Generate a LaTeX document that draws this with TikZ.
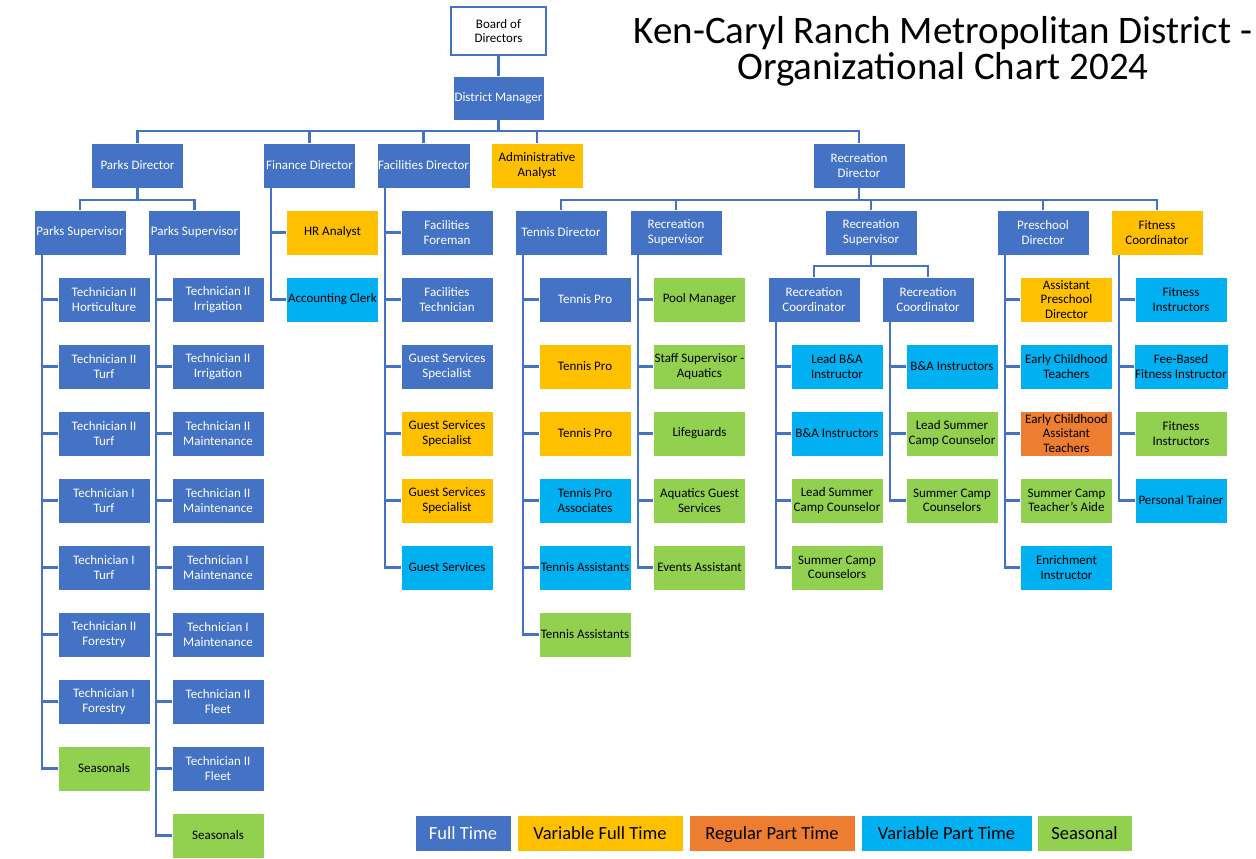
\documentclass[tikz,border=0pt]{standalone}
\usepackage{fontspec}
\setmainfont{Carlito}
\usetikzlibrary{positioning}
\definecolor{kcblue}{HTML}{4472C4}
\definecolor{kcgold}{HTML}{FFC000}
\definecolor{kcorange}{HTML}{ED7D31}
\definecolor{kccyan}{HTML}{00B0F0}
\definecolor{kcgreen}{HTML}{92D050}

\begin{document}
\begin{tikzpicture}[x=1pt, y=-1pt,
  role/.style={rectangle, minimum width=92pt, minimum height=45pt, inner sep=1pt, align=center,
    font=\fontsize{13}{14.5}\selectfont, draw=white, line width=0.6pt},
  full/.style={role, fill=kcblue, text=white},
  varfull/.style={role, fill=kcgold, text=black},
  regpart/.style={role, fill=kcorange, text=black},
  varpart/.style={role, fill=kccyan, text=black},
  seasonal/.style={role, fill=kcgreen, text=black},
  legend/.style={rectangle, minimum height=36pt, inner sep=0pt, text height=14pt, text depth=2pt,
    font=\fontsize{18.5}{20}\selectfont, draw=white, line width=0.6pt},
  link/.style={draw=kcblue, line width=2.2pt},
]
\useasboundingbox (0,0) rectangle (1256,859);
\node[font=\fontsize{39}{36}\selectfont, align=center, inner sep=0pt] (title) at (943,51) {Ken-Caryl Ranch Metropolitan District -\\Organizational Chart 2024};

% top of the chart
\node[role, fill=white, draw=kcblue, line width=1.5pt, minimum width=95pt, minimum height=48pt] (board) at (498.5,31) {Board of\\Directors};
\node[full, minimum width=91pt, minimum height=44pt] (dm) at (498.5,98) {District Manager};
\node[full] (parksdir) at (137.5,165.5) {Parks Director};
\node[full] (findir) at (309.5,165.5) {Finance Director};
\node[full] (facdir) at (423.5,165.5) {Facilities Director};
\node[varfull] (admin) at (537,165.5) {Administrative\\Analyst};
\node[full] (recdir) at (859,165.5) {Recreation\\Director};

% parks
\node[full] (ps1) at (80,232.5) {Parks Supervisor};
\node[full] (ps2) at (194.5,232.5) {Parks Supervisor};
\node[full] (ps1a) at (104,299.5) {Technician II\\Horticulture};
\node[full] (ps1b) at (104,366.5) {Technician II\\Turf};
\node[full] (ps1c) at (104,433.5) {Technician II\\Turf};
\node[full] (ps1d) at (104,500.5) {Technician I\\Turf};
\node[full] (ps1e) at (104,567.5) {Technician I\\Turf};
\node[full] (ps1f) at (104,634.5) {Technician II\\Forestry};
\node[full] (ps1g) at (104,701.5) {Technician I\\Forestry};
\node[seasonal] (ps1h) at (104,768.5) {Seasonals};
\node[full] (ps2a) at (218,299.5) {Technician II\\Irrigation};
\node[full] (ps2b) at (218,366.5) {Technician II\\Irrigation};
\node[full] (ps2c) at (218,433.5) {Technician II\\Maintenance};
\node[full] (ps2d) at (218,500.5) {Technician II\\Maintenance};
\node[full] (ps2e) at (218,567.5) {Technician I\\Maintenance};
\node[full] (ps2f) at (218,634.5) {Technician I\\Maintenance};
\node[full] (ps2g) at (218,701.5) {Technician II\\Fleet};
\node[full] (ps2h) at (218,768.5) {Technician II\\Fleet};
\node[seasonal] (ps2i) at (218,835.5) {Seasonals};

% finance and facilities
\node[varfull] (fina) at (332.5,232.5) {HR Analyst};
\node[varpart] (finb) at (332.5,299.5) {Accounting Clerk};
\node[full] (faca) at (447,232.5) {Facilities\\Foreman};
\node[full] (facb) at (447,299.5) {Facilities\\Technician};
\node[full] (facc) at (447,366.5) {Guest Services\\Specialist};
\node[varfull] (facd) at (447,433.5) {Guest Services\\Specialist};
\node[varfull] (face) at (447,500.5) {Guest Services\\Specialist};
\node[varpart] (facf) at (447,567.5) {Guest Services};

% recreation
\node[full] (tennis) at (561,232.5) {Tennis Director};
\node[full] (rs1) at (676,232.5) {Recreation\\Supervisor};
\node[full] (rs2) at (871,232.5) {Recreation\\Supervisor};
\node[full] (presch) at (1043,232.5) {Preschool\\Director};
\node[varfull] (fitness) at (1157,232.5) {Fitness\\Coordinator};
\node[full] (tena) at (585,299.5) {Tennis Pro};
\node[varfull] (tenb) at (585,366.5) {Tennis Pro};
\node[varfull] (tenc) at (585,433.5) {Tennis Pro};
\node[varpart] (tend) at (585,500.5) {Tennis Pro\\Associates};
\node[varpart] (tene) at (585,567.5) {Tennis Assistants};
\node[seasonal] (tenf) at (585,634.5) {Tennis Assistants};
\node[seasonal] (rs1a) at (699.5,299.5) {Pool Manager};
\node[seasonal] (rs1b) at (699.5,366.5) {Staff Supervisor -\\Aquatics};
\node[seasonal] (rs1c) at (699.5,433.5) {Lifeguards};
\node[seasonal] (rs1d) at (699.5,500.5) {Aquatics Guest\\Services};
\node[seasonal] (rs1e) at (699.5,567.5) {Events Assistant};
\node[full] (rc1) at (814,299.5) {Recreation\\Coordinator};
\node[full] (rc2) at (928,299.5) {Recreation\\Coordinator};
\node[varpart] (rc1a) at (837,366.5) {Lead B\&A\\Instructor};
\node[varpart] (rc1b) at (837,433.5) {B\&A Instructors};
\node[seasonal] (rc1c) at (837,500.5) {Lead Summer\\Camp Counselor};
\node[seasonal] (rc1d) at (837,567.5) {Summer Camp\\Counselors};
\node[varpart] (rc2a) at (952,366.5) {B\&A Instructors};
\node[seasonal] (rc2b) at (952,433.5) {Lead Summer\\Camp Counselor};
\node[seasonal] (rc2c) at (952,500.5) {Summer Camp\\Counselors};
\node[varfull] (prea) at (1066.5,299.5) {Assistant\\Preschool\\Director};
\node[varpart] (preb) at (1066.5,366.5) {Early Childhood\\Teachers};
\node[regpart] (prec) at (1066.5,433.5) {Early Childhood\\Assistant\\Teachers};
\node[seasonal] (pred) at (1066.5,500.5) {Summer Camp\\Teacher’s Aide};
\node[varpart] (pree) at (1066.5,567.5) {Enrichment\\Instructor};
\node[varpart] (fita) at (1181,299.5) {Fitness\\Instructors};
\node[varpart] (fitb) at (1181,366.5) {Fee-Based\\Fitness Instructor};
\node[seasonal] (fitc) at (1181,433.5) {Fitness\\Instructors};
\node[varpart] (fitd) at (1181,500.5) {Personal Trainer};

% connectors
\draw[link] (board) -- (dm);
\foreach \c in {parksdir, findir, facdir, admin, recdir}
  \draw[link] (dm.south) -- ++(0,11) -| (\c.north);
\foreach \c in {ps1, ps2}
  \draw[link] (parksdir.south) -- ++(0,11.5) -| (\c.north);
\foreach \c in {tennis, rs1, rs2, presch, fitness}
  \draw[link] (recdir.south) -- ++(0,11.5) -| (\c.north);
\foreach \c in {rc1, rc2}
  \draw[link] (rs2.south) -- ++(0,11) -| (\c.north);
\foreach \p/\kids in {ps1/{ps1a,ps1b,ps1c,ps1d,ps1e,ps1f,ps1g,ps1h},
    ps2/{ps2a,ps2b,ps2c,ps2d,ps2e,ps2f,ps2g,ps2h,ps2i},
    findir/{fina,finb}, facdir/{faca,facb,facc,facd,face,facf},
    tennis/{tena,tenb,tenc,tend,tene,tenf}, rs1/{rs1a,rs1b,rs1c,rs1d,rs1e},
    rc1/{rc1a,rc1b,rc1c,rc1d}, rc2/{rc2a,rc2b,rc2c},
    presch/{prea,preb,prec,pred,pree}, fitness/{fita,fitb,fitc,fitd}}
  \foreach \k in \kids
    \draw[link] ([xshift=8pt]\p.south west) |- (\k.west);

% legend
\node[legend, fill=kcblue, text=white, minimum width=96pt] (lgfull) at (463,833) {Full Time};
\node[legend, fill=kcgold, minimum width=166pt] (lgvarfull) at (600,833) {Variable Full Time};
\node[legend, fill=kcorange, minimum width=166pt] (lgregpart) at (772,833) {Regular Part Time};
\node[legend, fill=kccyan, minimum width=171pt] (lgvarpart) at (946.5,833) {Variable Part Time};
\node[legend, fill=kcgreen, minimum width=95pt] (lgseason) at (1084.5,833) {Seasonal};
\end{tikzpicture}
\end{document}
